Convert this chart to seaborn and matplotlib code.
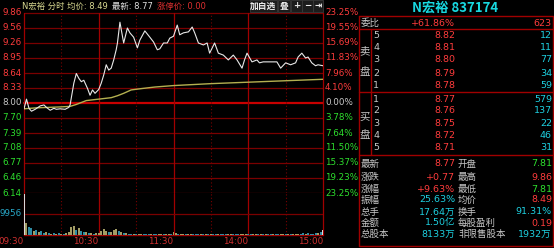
import matplotlib
matplotlib.use("Agg")
import matplotlib.pyplot as plt
import matplotlib.transforms as mtransforms
from matplotlib.lines import Line2D
from matplotlib.patches import Rectangle
import seaborn as sns
import pandas as pd
import numpy as np

# ---------------- data ----------------
prev_close = 8.00
price_labels = ["9.86", "9.56", "9.26", "8.95", "8.64", "8.33", "8.00",
                "7.70", "7.39", "7.08", "6.77", "6.46", "6.14"]
pct_labels = ["23.25%", "19.55%", "15.69%", "11.83%", "7.96%", "4.10%", "0.00%",
              "3.78%", "7.64%", "11.50%", "15.37%", "19.23%", "23.25%"]
time_labels = ["09:30", "10:30", "11:30", "14:00", "15:00"]
time_label_minutes = [0, 60, 120, 180, 240]

price_minutes = [0, 2, 4, 6, 9, 13, 16, 18, 21, 24, 26, 29, 33, 36, 37, 40, 42, 44, 46, 48,
                 51, 53, 55, 57, 60, 62, 64, 66, 68, 70, 72, 74, 75, 77, 80, 83, 85, 88, 91, 93,
                 97, 101, 104, 107, 109, 112, 115, 117, 120, 123, 125, 128, 132, 135, 137, 140,
                 144, 147, 149, 153, 156, 160, 164, 168, 171, 175, 177, 179, 183, 187, 189, 192,
                 197, 203, 206, 210, 214, 218, 220, 223, 226, 228, 231, 234, 236, 240]
price_values = [7.88, 8.08, 7.89, 7.83, 7.87, 7.94, 7.96, 7.91, 7.85, 7.89, 7.87, 7.88, 7.87,
                7.91, 7.96, 8.41, 8.61, 8.51, 8.44, 8.47, 8.30, 8.16, 8.27, 8.20, 8.28, 8.41,
                8.58, 8.79, 8.68, 8.72, 8.89, 9.10, 9.24, 9.67, 9.24, 9.55, 9.45, 9.36, 9.14,
                9.30, 9.49, 9.36, 9.26, 9.10, 9.12, 9.24, 9.24, 9.34, 9.38, 9.61, 9.41, 9.45,
                9.47, 9.57, 9.45, 9.24, 9.20, 9.24, 9.03, 9.24, 9.03, 8.99, 8.89, 8.99, 8.89,
                8.72, 8.89, 9.03, 8.85, 8.89, 8.83, 8.85, 8.85, 8.85, 8.72, 8.83, 8.79, 8.83,
                8.95, 9.03, 8.93, 8.95, 8.83, 8.77, 8.79, 8.77]

avg_minutes = [0, 10, 20, 30, 37, 42, 50, 60, 70, 75, 80, 86, 95, 105, 120, 150, 180, 210, 240]
avg_values = [7.88, 7.90, 7.91, 7.92, 7.93, 7.97, 8.05, 8.08, 8.11, 8.15, 8.20, 8.27, 8.30,
              8.33, 8.36, 8.40, 8.43, 8.46, 8.49]

vol_minutes = list(range(0, 241, 2))
vol_values = [19500, 5800, 3800, 3200, 1800, 2600, 1300, 1900, 1100, 1300,
              900, 700, 1000, 600, 800, 700, 600, 900, 1500, 3600,
              4200, 2600, 3200, 1900, 1500, 1300, 1000, 800, 700, 900,
              1100, 1800, 2900, 2100, 1200, 1500, 2400, 2700, 2100, 1500,
              900, 800, 600, 700, 500, 600, 500, 700, 500, 400,
              600, 500, 400, 500, 400, 500, 400, 500, 400, 500,
              1500, 900, 600, 500, 400, 500, 400, 600, 400, 500,
              400, 300, 400, 500, 400, 600, 400, 300, 400, 300,
              500, 400, 300, 400, 300, 400, 500, 300, 400, 500,
              300, 400, 300, 400, 300, 400, 300, 400, 300, 400,
              300, 500, 400, 300, 400, 300, 500, 400, 600, 500,
              700, 500, 800, 600, 900, 700, 600, 1000, 800, 1200,
              2200]
vol_dirs = list("nuddududdu" "dudududuuu" "ududdududu" "uuuuduuudu"
                "dudduduudd" "dudduuduud" "uuduuduudd" "dudududdud"
                "dduuddduuu" "dduudududd" "udduududuu" "udduddddud" "n")
vol_mid_label = "9956"

header_parts = ["N宏裕 分时 均价: 8.49", "最新: 8.77", "涨停价: 0.00"]
quote_title = "N宏裕 837174"
weibi = ["委比", "+61.86%", "623"]
sell_levels = ["5", "4", "3", "2", "1"]
sell_prices = ["8.82", "8.81", "8.80", "8.79", "8.78"]
sell_vols = ["12", "11", "77", "34", "59"]
buy_levels = ["1", "2", "3", "4", "5"]
buy_prices = ["8.77", "8.76", "8.75", "8.72", "8.71"]
buy_vols = ["579", "137", "22", "46", "31"]
stat_labels1 = ["最新", "涨跌", "涨幅", "振幅", "总手", "金额", "总股本"]
stat_values1 = ["8.77", "+0.77", "+9.63%", "25.63%", "17.64万", "1.50亿", "8133万"]
stat_labels2 = ["开盘", "最高", "最低", "均价", "换手", "每股盈利", "非限售股本"]
stat_values2 = ["7.81", "9.86", "7.81", "8.49", "91.31%", "0.19", "1932万"]

# ---------------- style ----------------
sns.set_theme(style="dark")
plt.rcParams["font.family"] = ["DejaVu Sans", "Noto Sans CJK SC"]
plt.rcParams["axes.unicode_minus"] = False

W, H = 554, 248
RED = "#ff3c3c"
GREEN = "#2ee02e"
CYAN = "#1ed0e0"
GREY = "#c8c8c8"
GRID = "#7a0000"
GRID2 = "#a00000"

fig = plt.figure(figsize=(W / 100, H / 100), dpi=100, facecolor="black")

def fx(x):
    return x / W

def fy(y):
    return 1 - y / H

ax = fig.add_axes([fx(24), fy(193), 299 / W, 180 / H], facecolor="black")
axv = fig.add_axes([fx(24), fy(235), 299 / W, 42 / H], facecolor="black")

top_p = float(price_labels[0])
bot_p = float(price_labels[-1])
levels = np.linspace(top_p, bot_p, len(price_labels))

# price + average lines
df_p = pd.DataFrame({"minute": price_minutes, "price": price_values})
df_a = pd.DataFrame({"minute": avg_minutes, "price": avg_values})
sns.lineplot(data=df_a, x="minute", y="price", ax=ax, color="#b4b050", lw=1.0, zorder=5)
sns.lineplot(data=df_p, x="minute", y="price", ax=ax, color="#e8e8e8", lw=0.8, zorder=6)

ax.set_xlim(0, 240)
ax.set_ylim(bot_p, top_p)
for a in (ax, axv):
    a.set_xticks([])
    a.set_yticks([])
    a.set_xlabel("")
    a.set_ylabel("")
    for s in a.spines.values():
        s.set_visible(False)

for i, lv in enumerate(levels):
    if price_labels[i] == "8.00":
        ax.axhline(lv, color="#c80000", lw=1.6, zorder=2, clip_on=False)
    else:
        ax.axhline(lv, color=GRID, lw=0.9, zorder=2, clip_on=False)

for a in (ax, axv):
    for t in [0, 60, 120, 180, 240]:
        a.axvline(t, color=GRID2, lw=0.9, zorder=2, clip_on=False)
    for t in [30, 90, 150, 210]:
        a.axvline(t, color=GRID, lw=0.8, ls=(0, (1, 2)), zorder=2)

# axis labels
tr_l = mtransforms.blended_transform_factory(ax.transAxes, ax.transData)
for i, lv in enumerate(levels):
    lab = price_labels[i]
    pl = float(lab)
    c = GREY if lab == "8.00" else (RED if pl > prev_close else GREEN)
    ax.text(-0.007, lv, lab, transform=tr_l, ha="right", va="center",
            color=c, fontsize=6.3, clip_on=False)
    ax.text(1.007, lv, pct_labels[i], transform=tr_l, ha="left", va="center",
            color=c, fontsize=6.3, clip_on=False)

# volume bars
df_v = pd.DataFrame({"minute": vol_minutes, "vol": vol_values, "dir": vol_dirs})
sns.barplot(data=df_v, x="minute", y="vol", hue="dir", native_scale=True, dodge=False,
            palette={"u": "#aca45a", "d": "#1a98b8", "n": "#d8d8d8"}, width=0.8,
            errorbar=None, legend=False, ax=axv, zorder=4, linewidth=0)
vmid = float(vol_mid_label)
axv.set_xlim(0, 240)
axv.set_ylim(0, 2 * vmid)
axv.set_xticks([])
axv.set_yticks([])
axv.set_xlabel("")
axv.set_ylabel("")
axv.axhline(vmid, color=GRID, lw=0.9, zorder=2)
axv.axhline(0, color=GRID2, lw=1.0, zorder=2, clip_on=False)
tr_v = mtransforms.blended_transform_factory(axv.transAxes, axv.transData)
axv.text(-0.007, vmid, vol_mid_label, transform=tr_v, ha="right", va="center",
         color="#28a8c8", fontsize=6.3, clip_on=False)
tr_t = mtransforms.blended_transform_factory(axv.transData, axv.transAxes)
for t, lab in zip(time_label_minutes, time_labels):
    axv.text(t, -0.145, lab, transform=tr_t, ha="right", va="center",
             color="#d03030", fontsize=6.3, clip_on=False)

# header text in chart (chained so the parts never overlap)
fig.canvas.draw()
renderer = fig.canvas.get_renderer()
hx = 22
for part, col in zip(header_parts, ["#d8d890", "#e0e0e0", "#e03030"]):
    t = fig.text(fx(hx), fy(6), part, ha="left", va="center", color=col, fontsize=6)
    bb = t.get_window_extent(renderer)
    hx = bb.x1 + 4

buttons = [("加自选", 250, 277), ("叠", 278, 290), ("+", 291, 302), ("−", 302, 313), ("⇥", 313, 323)]
for lab, x0, x1 in buttons:
    fig.add_artist(Rectangle((fx(x0), fy(12)), (x1 - x0) / W, 12 / H, transform=fig.transFigure,
                             facecolor="#1c1c1c", edgecolor="#3a3a3a", lw=0.6))
    fig.text(fx((x0 + x1) / 2), fy(6), lab, ha="center", va="center", color="#e8e8e8",
             fontsize=6.3, fontweight="bold")

# ---------------- right quote panel ----------------
def hline(y, x0=359, x1=553, c=GRID2):
    fig.add_artist(Line2D([fx(x0), fx(x1)], [fy(y), fy(y)], color=c, lw=1.0))

def vline(x, y0, y1, c=GRID2):
    fig.add_artist(Line2D([fx(x), fx(x)], [fy(y0), fy(y1)], color=c, lw=1.0))

hline(16)
hline(246)
vline(359, 16, 246)
vline(553, 16, 246)
hline(29)
hline(92)
hline(155)
vline(371, 29, 155)

fig.text(fx(455), fy(8), quote_title, ha="center", va="center", color="#18d8e0",
         fontsize=9.5, fontweight="bold", family=["Noto Sans CJK SC", "DejaVu Sans"])

FS = 6.8
fig.text(fx(361), fy(23), weibi[0], ha="left", va="center", color=GREY, fontsize=FS)
fig.text(fx(455), fy(23), weibi[1], ha="right", va="center", color=RED, fontsize=FS)
fig.text(fx(552), fy(23), weibi[2], ha="right", va="center", color=RED, fontsize=FS)

sell_y = [35, 47, 60, 73, 85]
for y, lv, p, v in zip(sell_y, sell_levels, sell_prices, sell_vols):
    fig.text(fx(373), fy(y), lv, ha="left", va="center", color=GREY, fontsize=FS)
    fig.text(fx(455), fy(y), p, ha="right", va="center", color=RED, fontsize=FS)
    fig.text(fx(552), fy(y), v, ha="right", va="center", color=CYAN, fontsize=FS)
buy_y = [99, 111, 124, 136, 148]
for y, lv, p, v in zip(buy_y, buy_levels, buy_prices, buy_vols):
    fig.text(fx(373), fy(y), lv, ha="left", va="center", color=GREY, fontsize=FS)
    fig.text(fx(455), fy(y), p, ha="right", va="center", color=RED, fontsize=FS)
    fig.text(fx(552), fy(y), v, ha="right", va="center", color=CYAN, fontsize=FS)

for ch, y in [("卖", 51), ("盘", 72), ("买", 117), ("盘", 135)]:
    fig.text(fx(365), fy(y), ch, ha="center", va="center", color=GREY, fontsize=7.5)

stat_y = [164, 177, 189, 200, 212, 223, 234]
colors1 = [RED, RED, RED, CYAN, CYAN, CYAN, CYAN]
colors2 = [GREEN, RED, GREEN, RED, CYAN, RED, CYAN]
for y, l1, v1, c1, l2, v2, c2 in zip(stat_y, stat_labels1, stat_values1, colors1,
                                      stat_labels2, stat_values2, colors2):
    fig.text(fx(361), fy(y), l1, ha="left", va="center", color=GREY, fontsize=FS)
    fig.text(fx(455), fy(y), v1, ha="right", va="center", color=c1, fontsize=FS)
    fig.text(fx(458), fy(y), l2, ha="left", va="center", color=GREY, fontsize=FS)
    fig.text(fx(552), fy(y), v2, ha="right", va="center", color=c2, fontsize=FS)

fig.savefig("out.png", dpi=100, facecolor="black")
